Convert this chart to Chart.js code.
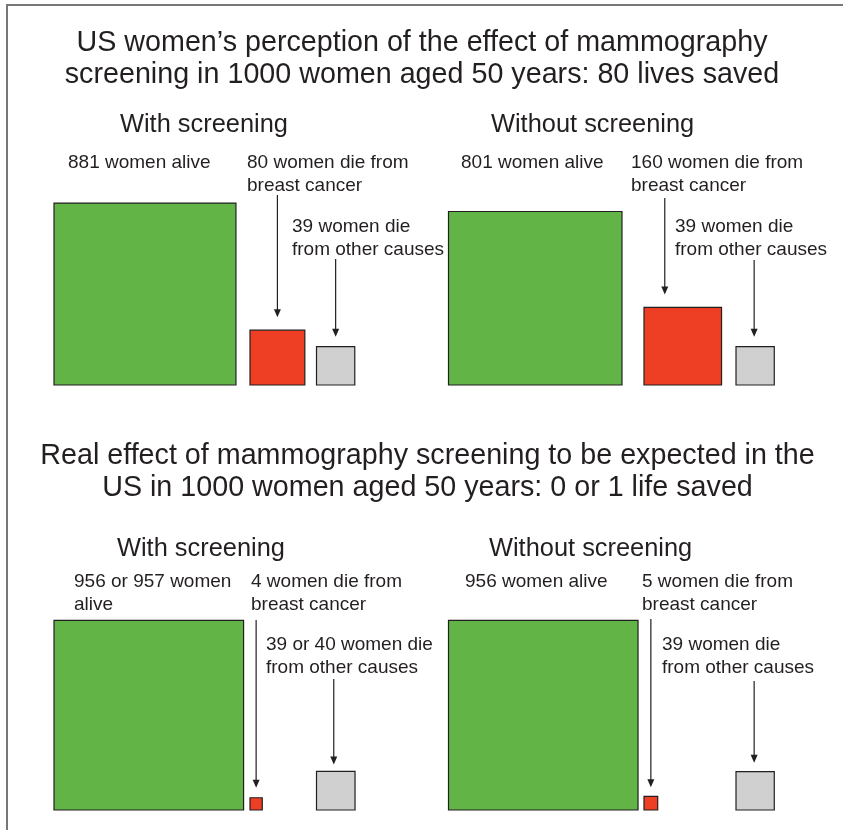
<!DOCTYPE html>
<html>
<head>
<meta charset="utf-8">
<script src="https://cdn.jsdelivr.net/npm/chart.js@4.4.1/dist/chart.umd.min.js"></script>
<style>
  html, body { margin: 0; padding: 0; background: #fff; }
  body { width: 843px; height: 830px; position: relative; overflow: hidden;
         font-family: "Liberation Sans", Arial, Helvetica, sans-serif; color: #231f20; }
  .frame { position: absolute; left: 6px; top: 4px; width: 900px; height: 900px;
           border: 2px solid #777; box-sizing: border-box; }
  canvas { position: absolute; left: 0; }
  .t { position: absolute; white-space: nowrap; }
  .title { font-size: 28.7px; line-height: 31.5px; text-align: center; width: 843px; }
  .head { font-size: 25.4px; line-height: 30px; }
  .lab { font-size: 19px; line-height: 23px; }
</style>
</head>
<body>
<div class="frame"></div>
<canvas id="topChart" width="843" height="390" style="top:0"></canvas>
<canvas id="bottomChart" width="843" height="415" style="top:400px"></canvas>

<div class="t title" style="left:0.5px; top:26px">US women’s perception of the effect of mammography<br>screening in 1000 women aged 50 years: 80 lives saved</div>
<div class="t head" style="left:120px; top:108px">With screening</div>
<div class="t head" style="left:491px; top:108px">Without screening</div>
<div class="t lab" style="left:68px; top:150px">881 women alive</div>
<div class="t lab" style="left:247px; top:150px">80 women die from<br>breast cancer</div>
<div class="t lab" style="left:292px; top:214px">39 women die<br>from other causes</div>
<div class="t lab" style="left:461px; top:150px">801 women alive</div>
<div class="t lab" style="left:631px; top:150px">160 women die from<br>breast cancer</div>
<div class="t lab" style="left:675px; top:214px">39 women die<br>from other causes</div>

<div class="t title" style="left:6px; top:438px; line-height:32px">Real effect of mammography screening to be expected in the<br>US in 1000 women aged 50 years: 0 or 1 life saved</div>
<div class="t head" style="left:117px; top:532px">With screening</div>
<div class="t head" style="left:489px; top:532px">Without screening</div>
<div class="t lab" style="left:74px; top:569px">956 or 957 women<br>alive</div>
<div class="t lab" style="left:251px; top:569px">4 women die from<br>breast cancer</div>
<div class="t lab" style="left:266px; top:632px">39 or 40 women die<br>from other causes</div>
<div class="t lab" style="left:465px; top:569px">956 women alive</div>
<div class="t lab" style="left:642px; top:569px">5 women die from<br>breast cancer</div>
<div class="t lab" style="left:662px; top:632px">39 women die<br>from other causes</div>

<script>
// outcomes per 1000 women
const categories = ['Women alive', 'Die from breast cancer', 'Die from other causes'];
const panels = ['With screening', 'Without screening'];

// perceived effect
const perceivedWith = [881, 80, 39];
const perceivedWithout = [801, 160, 39];

// real effect ("956 or 957", "39 or 40")
const realWith = [956.5, 4, 39.5];
const realWithout = [956, 5, 39];

const colors = ['#62b446', '#ee3e23', '#d0d0d0'];

// layout: pixels per sqrt(woman), left edge of each square slot
const K = 6.13;
const slotLeft = [[54, 250, 316.5], [448.5, 644, 736]];

function sidePx(ctx) {
  if (!ctx.raw) return 0;
  const xs = ctx.chart.scales.x;
  return xs.getPixelForValue(Math.sqrt(ctx.raw.n)) - xs.getPixelForValue(0);
}

function arrows(list, canvasTop) {
  return {
    id: 'arrows',
    afterDatasetsDraw(chart) {
      const ctx = chart.ctx;
      list.forEach(a => {
        const el = chart.getDatasetMeta(a.cat).data[a.panel];
        const half = el.options.radius * Math.SQRT1_2;
        const x = el.x + (a.dx || 0);
        const tip = el.y - half - a.gap;
        ctx.save();
        ctx.strokeStyle = '#231f20';
        ctx.fillStyle = '#231f20';
        ctx.lineWidth = 1.2;
        ctx.beginPath();
        ctx.moveTo(x, a.from - canvasTop);
        ctx.lineTo(x, tip - 6);
        ctx.stroke();
        ctx.beginPath();
        ctx.moveTo(x - 3.5, tip - 8);
        ctx.lineTo(x + 3.5, tip - 8);
        ctx.lineTo(x, tip);
        ctx.closePath();
        ctx.fill();
        ctx.restore();
      });
    }
  };
}

function makeChart(id, series, areaHeight, arrowList, canvasTop) {
  const datasets = categories.map((cat, c) => ({
    label: cat,
    data: series.map((vals, i) => {
      const s = Math.sqrt(vals[c]);
      return { x: slotLeft[i][c] / K + s / 2, y: s / 2, n: vals[c] };
    }),
    pointStyle: 'rect',
    pointBackgroundColor: colors[c],
    pointBorderColor: '#231f20',
    pointBorderWidth: 1.2,
    pointHoverBorderWidth: 1.2,
    pointRadius: ctx => sidePx(ctx) / Math.SQRT2,
    pointHoverRadius: ctx => sidePx(ctx) / Math.SQRT2,
    showLine: false,
    clip: false
  }));

  return new Chart(document.getElementById(id), {
    type: 'scatter',
    data: { datasets },
    options: {
      responsive: false,
      animation: false,
      layout: { padding: { left: 0, right: 0, top: 0, bottom: 5 } },
      scales: {
        x: { type: 'linear', display: false, min: 0, max: 843 / K },
        y: { type: 'linear', display: false, min: 0, max: areaHeight / K }
      },
      plugins: {
        legend: { display: false },
        tooltip: {
          callbacks: {
            label: ctx => ctx.dataset.label + ': ' + ctx.raw.n
          }
        }
      }
    },
    plugins: [arrows(arrowList, canvasTop)]
  });
}

makeChart('topChart', [perceivedWith, perceivedWithout], 385, [
  { panel: 0, cat: 1, from: 195, gap: 13 },
  { panel: 0, cat: 2, from: 259, gap: 10 },
  { panel: 1, cat: 1, from: 198, gap: 13, dx: -18 },
  { panel: 1, cat: 2, from: 260, gap: 10, dx: -1 }
], 0);

makeChart('bottomChart', [realWith, realWithout], 410, [
  { panel: 0, cat: 1, from: 620, gap: 10 },
  { panel: 0, cat: 2, from: 679, gap: 7, dx: -2 },
  { panel: 1, cat: 1, from: 619, gap: 9 },
  { panel: 1, cat: 2, from: 681, gap: 9, dx: -1 }
], 400);
</script>
</body>
</html>
